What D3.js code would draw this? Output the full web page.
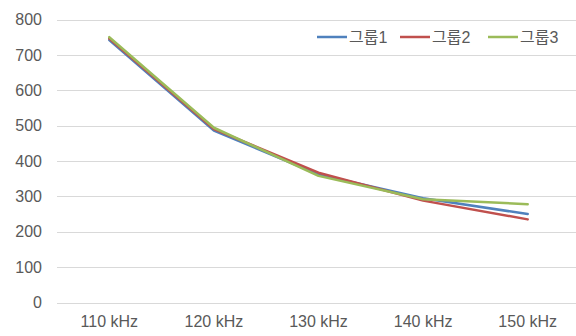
<!DOCTYPE html>
<html>
<head>
<meta charset="utf-8">
<script src="https://cdn.jsdelivr.net/npm/d3@7"></script>
<style>
  body { margin: 0; background: #fff; }
  text { font-family: "Liberation Sans", Arial, "Noto Sans CJK KR", sans-serif; fill: #595959; }
</style>
</head>
<body>
<div id="chart"></div>
<script>
// data
var categories = ['110 kHz', '120 kHz', '130 kHz', '140 kHz', '150 kHz'];
var seriesNames = ['그룹1', '그룹2', '그룹3'];
var group1 = [742, 486, 362, 295, 250];
var group2 = [746, 490, 367, 288, 235];
var group3 = [750, 494, 358, 292, 278];
var yTicks = [0, 100, 200, 300, 400, 500, 600, 700, 800];
var colors = ['#4F81BD', '#C0504D', '#9BBB59'];

var svgwidth = 576, svgheight = 336;
var plotLeft = 57, plotRight = 580, plotTop = 19.5, plotBottom = 302.5;

var svg = d3.select('#chart')
            .append('svg')
            .attr('width', svgwidth)
            .attr('height', svgheight);

var xscale = d3.scaleBand()
               .domain(categories)
               .range([plotLeft, plotRight]);
var yscale = d3.scaleLinear()
               .domain([0, 800])
               .range([plotBottom, plotTop]);

// gridlines
svg.append('g')
   .selectAll('line')
   .data(yTicks)
   .join('line')
   .attr('x1', plotLeft)
   .attr('x2', svgwidth)
   .attr('y1', d => Math.round(yscale(d)) + 0.5)
   .attr('y2', d => Math.round(yscale(d)) + 0.5)
   .attr('stroke', '#d9d9d9')
   .attr('stroke-width', 1);

// y axis labels
var yaxis = d3.axisLeft(yscale).tickValues(yTicks).tickSize(0).tickPadding(0);
var gy = svg.append('g')
   .attr('transform', 'translate(42,0)')
   .call(yaxis);
gy.select('.domain').remove();
gy.selectAll('text')
  .style('font-size', '16px')
  .attr('fill', '#595959');

// x axis labels
var xaxis = d3.axisBottom(xscale).tickSize(0).tickPadding(0);
var gx = svg.append('g')
   .attr('transform', 'translate(0,' + (plotBottom + 13) + ')')
   .call(xaxis);
gx.select('.domain').remove();
gx.selectAll('text')
  .style('font-size', '16px')
  .attr('fill', '#595959');

// lines
var allSeries = [group1, group2, group3];
var line = d3.line()
             .x((d, i) => xscale(categories[i]) + xscale.bandwidth() / 2)
             .y(d => yscale(d));

svg.append('g')
   .selectAll('path')
   .data(allSeries)
   .join('path')
   .attr('d', d => line(d))
   .attr('fill', 'none')
   .attr('stroke', (d, i) => colors[i])
   .attr('stroke-width', 2.5)
   .attr('stroke-linecap', 'round')
   .attr('stroke-linejoin', 'round');

// legend
var legendX = [317, 400, 488];
var lg = svg.append('g');
seriesNames.forEach(function(name, i) {
    lg.append('line')
      .attr('x1', legendX[i])
      .attr('x2', legendX[i] + 30)
      .attr('y1', 37)
      .attr('y2', 37)
      .attr('stroke', colors[i])
      .attr('stroke-width', 2.5);
    lg.append('text')
      .attr('x', legendX[i] + 32)
      .attr('y', 37)
      .attr('dy', '0.35em')
      .style('font-size', '16px')
      .text(name);
});
</script>
</body>
</html>
